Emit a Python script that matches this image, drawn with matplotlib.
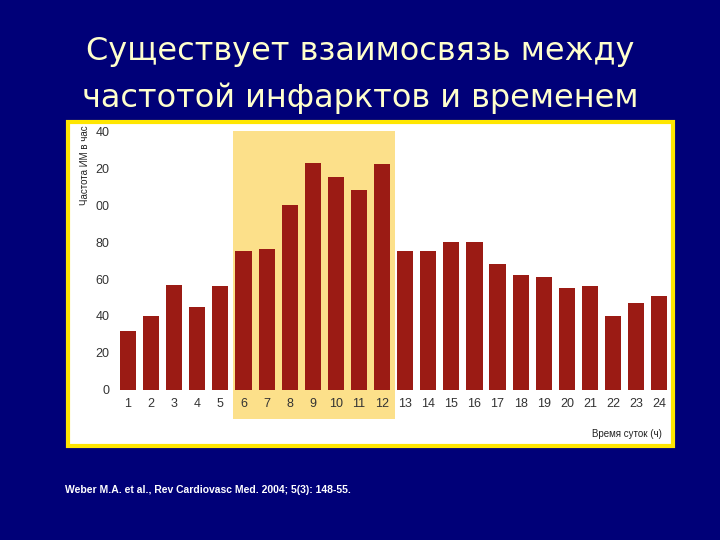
import matplotlib.pyplot as plt
from matplotlib.patches import Rectangle

hours = list(range(1, 25))
rate = [32, 40, 57, 45, 56, 75, 76, 100, 123, 115, 108, 122,
        75, 75, 80, 80, 68, 62, 61, 55, 56, 40, 47, 51]
ytick_vals = [0, 20, 40, 60, 80, 100, 120, 140]
ytick_text = ["0", "20", "40", "60", "80", "00", "20", "40"]

fig = plt.figure(figsize=(7.2, 5.4), dpi=100)
fig.patch.set_facecolor("#000078")

# title
fig.text(0.5, 0.905, "Существует взаимосвязь между", ha="center", va="center",
         fontsize=23, color="#FFFFCC")
fig.text(0.5, 0.818, "частотой инфарктов и временем", ha="center", va="center",
         fontsize=23, color="#FFFFCC")

# white panel with yellow border
fig.patches.append(Rectangle((68/720, 1-446/540), 605/720, 324/540,
                             transform=fig.transFigure, facecolor="white",
                             edgecolor="#FFE600", linewidth=3, zorder=0))

ax = fig.add_axes([0.164, 0.278, 0.767, 0.479], zorder=2)
ax.set_facecolor("none")
ax.add_patch(Rectangle((5.55, -16), 7.0, 156, facecolor="#FCE08A",
                       edgecolor="none", clip_on=False, zorder=0))
ax.bar(hours, rate, width=0.7, color="#9B1B14", zorder=2)
ax.set_xlim(0.57, 24.48)
ax.set_ylim(0, 140)
ax.set_xticks(hours)
ax.set_xticklabels([str(h) for h in hours], fontsize=9, color="#333333",
                   family="Liberation Sans")
ax.set_yticks(ytick_vals)
ax.set_yticklabels(ytick_text, fontsize=9, color="#333333", family="Liberation Sans")
ax.tick_params(length=0, pad=6)
for s in ax.spines.values():
    s.set_visible(False)

fig.text(85/720, 1-165/540, "Частота ИМ в час", rotation=90, ha="center", va="center",
         fontsize=7, color="#222222", family="Liberation Sans", zorder=3)
fig.text(662/720, 1-434/540, "Время суток (ч)", ha="right", va="center",
         fontsize=7, color="#222222", family="Liberation Sans", zorder=3)
fig.text(65/720, 1-490/540, "Weber M.A. et al., Rev Cardiovasc Med. 2004; 5(3): 148-55.",
         ha="left", va="center", fontsize=7.5, color="white", fontweight="bold",
         family="Liberation Sans")

fig.savefig("out.png", dpi=100, facecolor=fig.get_facecolor())
